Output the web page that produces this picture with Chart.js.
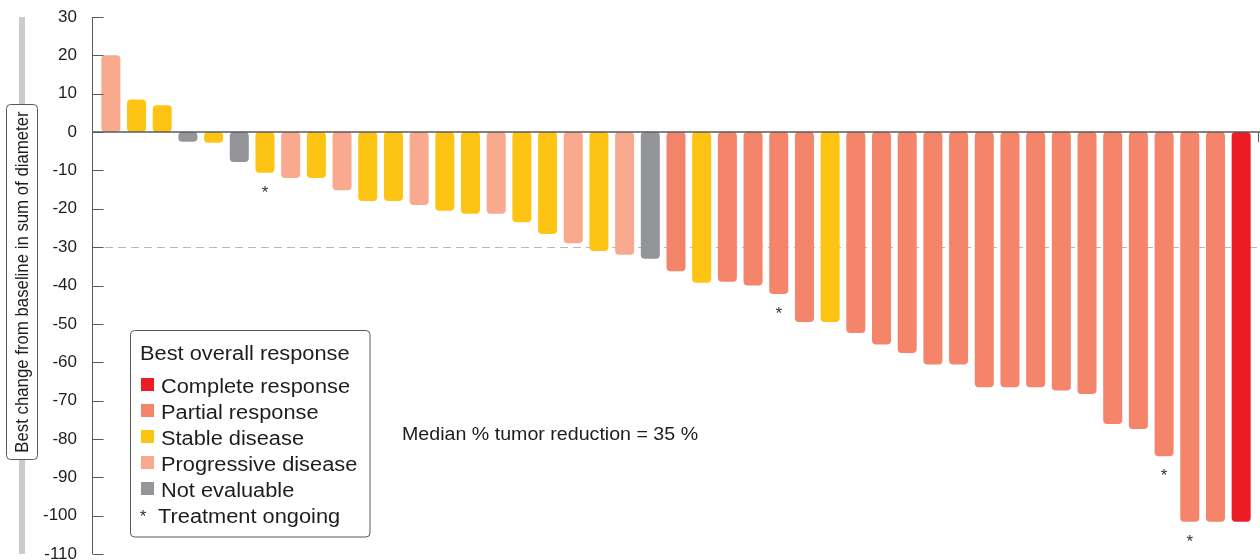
<!DOCTYPE html>
<html>
<head>
<meta charset="utf-8">
<script src="https://cdn.jsdelivr.net/npm/chart.js@4.4.1/dist/chart.umd.min.js"></script>
<style>
  html, body { margin: 0; padding: 0; background: #ffffff; }
  #wrap { width: 1260px; height: 560px; position: relative; }
</style>
</head>
<body>
<div id="wrap"><canvas id="waterfall" width="1260" height="560"></canvas></div>
<script>
// Best percentage change in sum of target-lesion diameters, one bar per patient
const changes = [
  20, 8.5, 7, -2.5, -2.8, -7.8, -10.6, -12, -12, -15.2,
  -18, -18, -19, -20.5, -21.3, -21.3, -23.5, -26.6, -29, -31,
  -32, -33, -36.3, -39.3, -39, -40, -42.2, -49.5, -49.5, -52.4,
  -55.4, -57.6, -60.6, -60.6, -66.5, -66.5, -66.5, -67.4, -68.3, -76.1,
  -77.4, -84.5, -101.6, -101.6, -101.6
];

// Best overall response per patient
const responses = [
  'PD', 'SD', 'SD', 'NE', 'SD', 'NE', 'SD', 'PD', 'SD', 'PD',
  'SD', 'SD', 'PD', 'SD', 'SD', 'PD', 'SD', 'SD', 'PD', 'SD',
  'PD', 'NE', 'PR', 'SD', 'PR', 'PR', 'PR', 'PR', 'SD', 'PR',
  'PR', 'PR', 'PR', 'PR', 'PR', 'PR', 'PR', 'PR', 'PR', 'PR',
  'PR', 'PR', 'PR', 'PR', 'CR'
];

// Patients still on treatment (position in the list, starting at 1)
const ongoingPatients = [7, 27, 42, 43];

const responseCodes = ['CR', 'PR', 'SD', 'PD', 'NE'];
const responseNames = ['Complete response', 'Partial response', 'Stable disease', 'Progressive disease', 'Not evaluable'];
const responseColors = ['#ED1C24', '#F4846A', '#FDC414', '#F9A98E', '#939598'];

const yMin = -110;
const yMax = 30;
const yStep = 10;
const responseThreshold = -30;
const medianReduction = 35;

const yTitle = 'Best change from baseline in sum of diameter';
const legendTitle = 'Best overall response';
const ongoingLabel = 'Treatment ongoing';
const medianLabel = 'Median % tumor reduction = ' + medianReduction + ' %';

const patientIds = changes.map((_, i) => 'Pt ' + (i + 1));
const barColors = responses.map(r => responseColors[responseCodes.indexOf(r)]);

const INK = '#1f1c1d';
const AXIS = '#58595b';
const FONT = '"Liberation Sans", Arial, Helvetica, sans-serif';

function stretchedText(ctx, text, x, y, size, sx) {
  ctx.save();
  ctx.translate(x, y);
  ctx.scale(sx, 1);
  ctx.font = size + 'px ' + FONT;
  ctx.textAlign = 'left';
  ctx.textBaseline = 'alphabetic';
  ctx.fillStyle = INK;
  ctx.fillText(text, 0, 0);
  ctx.restore();
}

const decorations = {
  id: 'decorations',
  beforeDatasetsDraw(chart) {
    const { ctx, chartArea: a, scales: { y } } = chart;
    const axisX = a.left - 6;

    // grey rail behind the y-axis title
    ctx.save();
    ctx.fillStyle = '#cbcbcb';
    ctx.fillRect(19, a.top, 6, a.bottom - a.top);
    ctx.restore();

    // -30 % threshold (dashed)
    const ty = Math.round(y.getPixelForValue(responseThreshold)) + 0.5;
    ctx.save();
    ctx.strokeStyle = '#b8b8b8';
    ctx.lineWidth = 1;
    ctx.setLineDash([8, 5]);
    ctx.beginPath();
    ctx.moveTo(axisX, ty);
    ctx.lineTo(chart.width, ty);
    ctx.stroke();
    ctx.restore();
  },
  afterDatasetsDraw(chart) {
    const { ctx, chartArea: a, scales: { y } } = chart;
    const axisX = Math.round(a.left - 6) + 0.5;

    ctx.save();
    ctx.strokeStyle = AXIS;
    ctx.lineWidth = 1;
    // vertical axis
    ctx.beginPath();
    ctx.moveTo(axisX, a.top);
    ctx.lineTo(axisX, a.bottom);
    ctx.stroke();
    // inward tick marks
    y.ticks.forEach(t => {
      const py = Math.round(y.getPixelForValue(t.value)) + 0.5;
      ctx.beginPath();
      ctx.moveTo(axisX, py);
      ctx.lineTo(axisX + 11, py);
      ctx.stroke();
    });
    // zero baseline
    const zy = y.getPixelForValue(0);
    ctx.lineWidth = 1.6;
    ctx.beginPath();
    ctx.moveTo(axisX, zy);
    ctx.lineTo(chart.width, zy);
    ctx.stroke();
    ctx.lineWidth = 1;
    ctx.beginPath();
    ctx.moveTo(chart.width - 1.5, zy);
    ctx.lineTo(chart.width - 1.5, zy + 10);
    ctx.stroke();
    ctx.restore();

    // asterisks under ongoing patients
    const bars = chart.getDatasetMeta(0).data;
    ctx.save();
    ctx.fillStyle = '#333333';
    ctx.font = '17px ' + FONT;
    ctx.textAlign = 'center';
    ctx.textBaseline = 'alphabetic';
    ongoingPatients.forEach(p => {
      const el = bars[p - 1];
      ctx.fillText('*', el.x, el.y + 25);
    });
    ctx.restore();

    // y-axis title in a framed box
    ctx.save();
    ctx.fillStyle = '#ffffff';
    ctx.strokeStyle = AXIS;
    ctx.lineWidth = 1;
    ctx.beginPath();
    ctx.roundRect(6.5, 104.5, 31, 355, 4);
    ctx.fill();
    ctx.stroke();
    ctx.translate(22.5, 282);
    ctx.scale(1.08, 1);
    ctx.rotate(-Math.PI / 2);
    ctx.fillStyle = INK;
    ctx.font = '16.8px ' + FONT;
    ctx.textAlign = 'center';
    ctx.textBaseline = 'middle';
    ctx.fillText(yTitle, 0, 0);
    ctx.restore();

    // legend box
    ctx.save();
    ctx.fillStyle = '#ffffff';
    ctx.strokeStyle = AXIS;
    ctx.lineWidth = 1;
    ctx.beginPath();
    ctx.roundRect(130.5, 330.5, 239.5, 206.5, 4);
    ctx.fill();
    ctx.stroke();
    ctx.restore();

    stretchedText(ctx, legendTitle, 140, 360, 20, 1.09);
    responseNames.forEach((name, i) => {
      const base = 392.5 + i * 26;
      ctx.save();
      ctx.fillStyle = responseColors[i];
      ctx.fillRect(141, base - 14.5, 13, 13);
      ctx.restore();
      stretchedText(ctx, name, 161, base, 20, 1.09);
    });
    const ongoingBase = 392.5 + responseNames.length * 26;
    ctx.save();
    ctx.fillStyle = '#333333';
    ctx.font = '17px ' + FONT;
    ctx.textAlign = 'center';
    ctx.fillText('*', 143, ongoingBase - 1);
    ctx.restore();
    stretchedText(ctx, ongoingLabel, 158, ongoingBase, 20, 1.09);

    // median annotation
    stretchedText(ctx, medianLabel, 402, 440, 18, 1.09);
  }
};

new Chart(document.getElementById('waterfall'), {
  type: 'bar',
  data: {
    labels: patientIds,
    datasets: [{
      label: 'Best change from baseline (%)',
      data: changes,
      backgroundColor: barColors,
      borderWidth: 0,
      borderRadius: 4,
      borderSkipped: false,
      barPercentage: 0.74,
      categoryPercentage: 1.0
    }]
  },
  options: {
    responsive: false,
    devicePixelRatio: 1,
    animation: false,
    layout: { padding: { top: 17, right: 6, bottom: 6, left: 0 } },
    plugins: {
      legend: { display: false },
      tooltip: { enabled: false }
    },
    scales: {
      x: {
        display: false,
        offset: true,
        grid: { display: false }
      },
      y: {
        min: yMin,
        max: yMax,
        grid: { display: false, drawTicks: false },
        border: { display: false },
        ticks: {
          stepSize: yStep,
          padding: 21,
          color: INK,
          font: { family: FONT, size: 17 }
        },
        afterFit(scale) {
          scale.width = 98;
          scale.paddingTop = 0;
          scale.paddingBottom = 0;
        }
      }
    }
  },
  plugins: [decorations]
});
</script>
</body>
</html>
